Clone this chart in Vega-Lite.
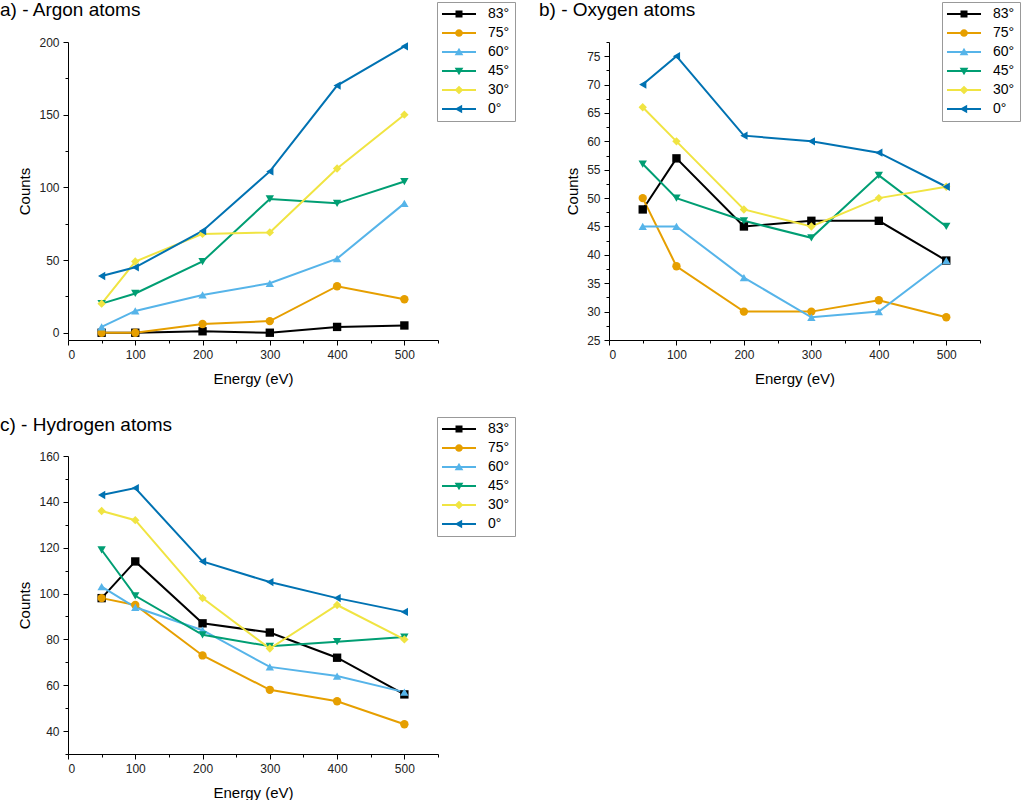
{
  "$schema": "https://vega.github.io/schema/vega-lite/v6.json",
  "padding": 0,
  "background": "white",
  "config": {
    "view": {"stroke": null},
    "font": "Liberation Sans",
    "axis": {
      "grid": false,
      "domainColor": "#000",
      "domainWidth": 1,
      "tickColor": "#000",
      "tickWidth": 1,
      "labelColor": "#222",
      "labelFont": "Liberation Sans",
      "labelFontSize": 12,
      "titleFont": "Liberation Sans",
      "titleFontSize": 15,
      "titleFontWeight": "normal",
      "titleColor": "#000",
      "labelPadding": 4
    },
    "axisX": {"titlePadding": 11},
    "axisY": {"titlePadding": 6},
    "legend": {
      "orient": "none",
      "strokeColor": "#999",
      "fillColor": "white",
      "padding": 5,
      "labelFont": "Liberation Sans",
      "labelFontSize": 14,
      "labelColor": "#000",
      "symbolSize": 196,
      "symbolOffset": 10,
      "labelOffset": 22,
      "rowPadding": 5,
      "symbolStrokeWidth": 0
    },
    "title": {"font": "Liberation Sans", "fontSize": 19, "fontWeight": "normal", "anchor": "start", "frame": "group", "color": "#000"}
  },
  "data": {
    "values": [
      {"panel": "a", "energy": 50, "83°": 0, "75°": 0, "60°": 4, "45°": 20, "30°": 20, "0°": 39},
      {"panel": "a", "energy": 100, "83°": 0, "75°": 0, "60°": 15, "45°": 27, "30°": 49, "0°": 45},
      {"panel": "a", "energy": 200, "83°": 1, "75°": 6, "60°": 26, "45°": 49, "30°": 68, "0°": 70},
      {"panel": "a", "energy": 300, "83°": 0, "75°": 8, "60°": 34, "45°": 92, "30°": 69, "0°": 111},
      {"panel": "a", "energy": 400, "83°": 4, "75°": 32, "60°": 51, "45°": 89, "30°": 113, "0°": 170},
      {"panel": "a", "energy": 500, "83°": 5, "75°": 23, "60°": 89, "45°": 104, "30°": 150, "0°": 197},
      {"panel": "b", "energy": 50, "83°": 48, "75°": 50, "60°": 45, "45°": 56, "30°": 66, "0°": 70},
      {"panel": "b", "energy": 100, "83°": 57, "75°": 38, "60°": 45, "45°": 50, "30°": 60, "0°": 75},
      {"panel": "b", "energy": 200, "83°": 45, "75°": 30, "60°": 36, "45°": 46, "30°": 48, "0°": 61},
      {"panel": "b", "energy": 300, "83°": 46, "75°": 30, "60°": 29, "45°": 43, "30°": 45, "0°": 60},
      {"panel": "b", "energy": 400, "83°": 46, "75°": 32, "60°": 30, "45°": 54, "30°": 50, "0°": 58},
      {"panel": "b", "energy": 500, "83°": 39, "75°": 29, "60°": 39, "45°": 45, "30°": 52, "0°": 52},
      {"panel": "c", "energy": 50, "83°": 98, "75°": 98, "60°": 103, "45°": 119, "30°": 136, "0°": 143},
      {"panel": "c", "energy": 100, "83°": 114, "75°": 95, "60°": 94, "45°": 99, "30°": 132, "0°": 146},
      {"panel": "c", "energy": 200, "83°": 87, "75°": 73, "60°": 84, "45°": 82, "30°": 98, "0°": 114},
      {"panel": "c", "energy": 300, "83°": 83, "75°": 58, "60°": 68, "45°": 77, "30°": 76, "0°": 105},
      {"panel": "c", "energy": 400, "83°": 72, "75°": 53, "60°": 64, "45°": 79, "30°": 95, "0°": 98},
      {"panel": "c", "energy": 500, "83°": 56, "75°": 43, "60°": 57, "45°": 81, "30°": 80, "0°": 92}
    ]
  },
  "columns": 2,
  "spacing": {"column": 23, "row": 29},
  "resolve": {
    "scale": {"x": "independent", "y": "independent", "color": "independent", "shape": "independent"},
    "legend": {"color": "independent", "shape": "independent"}
  },
  "concat": [
    {
      "width": 370, "height": 298,
      "title": {"text": "a) - Argon atoms", "dx": -68, "offset": -18},
      "transform": [{"filter": "datum.panel === 'a'"}, {"fold": ["83°", "75°", "60°", "45°", "30°", "0°"], "as": ["angle", "counts"]}],
      "encoding": {
        "x": {"field": "energy", "type": "quantitative", "title": "Energy (eV)",
          "scale": {"domain": [0, 550], "nice": false},
          "axis": {"values": [0, 50, 100, 150, 200, 250, 300, 350, 400, 450, 500, 550], "labelExpr": "datum.value % 100 === 0 ? datum.label : ''", "tickSize": {"condition": {"test": "datum.value % 100 === 0", "value": 5}, "value": 3}}},
        "y": {"field": "counts", "type": "quantitative", "title": "Counts",
          "scale": {"domain": [-5, 200], "nice": false, "zero": false},
          "axis": {"values": [0, 25, 50, 75, 100, 125, 150, 175, 200], "labelExpr": "datum.value % 50 === 0 ? datum.label : ''", "tickSize": {"condition": {"test": "datum.value % 50 === 0", "value": 5}, "value": 3}}},
        "color": {"field": "angle", "type": "nominal", "title": null,
          "scale": {"domain": ["83°", "75°", "60°", "45°", "30°", "0°"], "range": ["#000000", "#E69F00", "#56B4E9", "#009E73", "#F0E442", "#0072B2"]},
          "legend": {"legendX": 369, "legendY": -40, "encode": {"symbols": {"update": {
            "size": {"value": 196}, "opacity": {"value": 1}, "strokeWidth": {"value": 0}, "stroke": {"value": "transparent"},
            "shape": {"signal": "datum.value === '83°' ? 'M-2.43,-0.14H2.43V0.14H-2.43Z M-0.5,-0.5H0.5V0.5H-0.5Z' : datum.value === '75°' ? 'M-2.43,-0.14H2.43V0.14H-2.43Z M-0.55,0A0.55,0.55 0 1,1 0.55,0A0.55,0.55 0 1,1 -0.55,0Z' : datum.value === '60°' ? 'M-2.43,-0.14H2.43V0.14H-2.43Z M0,-0.62L0.62,0.45L-0.62,0.45Z' : datum.value === '45°' ? 'M-2.43,-0.14H2.43V0.14H-2.43Z M0,0.62L-0.62,-0.45L0.62,-0.45Z' : datum.value === '30°' ? 'M-2.43,-0.14H2.43V0.14H-2.43Z M0,-0.62L0.62,0L0,0.62L-0.62,0Z' : 'M-2.43,-0.14H2.43V0.14H-2.43Z M-0.62,0L0.45,-0.62L0.45,0.62Z'"}}}}}}
      },
      "layer": [
        {"mark": {"type": "line", "strokeWidth": 2}},
        {"mark": {"type": "point", "filled": true, "size": 70, "opacity": 1},
          "encoding": {"shape": {"field": "angle", "type": "nominal", "legend": null,
            "scale": {"range": ["triangle-left", "diamond", "triangle-down", "triangle-up", "circle", "square"]}}}}
      ]
    },
    {
      "width": 371, "height": 298,
      "title": {"text": "b) - Oxygen atoms", "dx": -70, "offset": -18},
      "transform": [{"filter": "datum.panel === 'b'"}, {"fold": ["83°", "75°", "60°", "45°", "30°", "0°"], "as": ["angle", "counts"]}],
      "encoding": {
        "x": {"field": "energy", "type": "quantitative", "title": "Energy (eV)",
          "scale": {"domain": [0, 550], "nice": false},
          "axis": {"values": [0, 50, 100, 150, 200, 250, 300, 350, 400, 450, 500, 550], "labelExpr": "datum.value % 100 === 0 ? datum.label : ''", "tickSize": {"condition": {"test": "datum.value % 100 === 0", "value": 5}, "value": 3}}},
        "y": {"field": "counts", "type": "quantitative", "title": "Counts",
          "scale": {"domain": [25, 77.5], "nice": false, "zero": false},
          "axis": {"values": [25, 27.5, 30, 32.5, 35, 37.5, 40, 42.5, 45, 47.5, 50, 52.5, 55, 57.5, 60, 62.5, 65, 67.5, 70, 72.5, 75, 77.5], "labelExpr": "datum.value % 5 === 0 ? datum.label : ''", "tickSize": {"condition": {"test": "datum.value % 5 === 0", "value": 5}, "value": 3}}},
        "color": {"field": "angle", "type": "nominal", "title": null,
          "scale": {"domain": ["83°", "75°", "60°", "45°", "30°", "0°"], "range": ["#000000", "#E69F00", "#56B4E9", "#009E73", "#F0E442", "#0072B2"]},
          "legend": {"legendX": 333, "legendY": -40, "encode": {"symbols": {"update": {
            "size": {"value": 196}, "opacity": {"value": 1}, "strokeWidth": {"value": 0}, "stroke": {"value": "transparent"},
            "shape": {"signal": "datum.value === '83°' ? 'M-2.43,-0.14H2.43V0.14H-2.43Z M-0.5,-0.5H0.5V0.5H-0.5Z' : datum.value === '75°' ? 'M-2.43,-0.14H2.43V0.14H-2.43Z M-0.55,0A0.55,0.55 0 1,1 0.55,0A0.55,0.55 0 1,1 -0.55,0Z' : datum.value === '60°' ? 'M-2.43,-0.14H2.43V0.14H-2.43Z M0,-0.62L0.62,0.45L-0.62,0.45Z' : datum.value === '45°' ? 'M-2.43,-0.14H2.43V0.14H-2.43Z M0,0.62L-0.62,-0.45L0.62,-0.45Z' : datum.value === '30°' ? 'M-2.43,-0.14H2.43V0.14H-2.43Z M0,-0.62L0.62,0L0,0.62L-0.62,0Z' : 'M-2.43,-0.14H2.43V0.14H-2.43Z M-0.62,0L0.45,-0.62L0.45,0.62Z'"}}}}}}
      },
      "layer": [
        {"mark": {"type": "line", "strokeWidth": 2}},
        {"mark": {"type": "point", "filled": true, "size": 70, "opacity": 1},
          "encoding": {"shape": {"field": "angle", "type": "nominal", "legend": null,
            "scale": {"range": ["triangle-left", "diamond", "triangle-down", "triangle-up", "circle", "square"]}}}}
      ]
    },
    {
      "width": 370, "height": 298,
      "title": {"text": "c) - Hydrogen atoms", "dx": -68, "offset": -18},
      "transform": [{"filter": "datum.panel === 'c'"}, {"fold": ["83°", "75°", "60°", "45°", "30°", "0°"], "as": ["angle", "counts"]}],
      "encoding": {
        "x": {"field": "energy", "type": "quantitative", "title": "Energy (eV)",
          "scale": {"domain": [0, 550], "nice": false},
          "axis": {"values": [0, 50, 100, 150, 200, 250, 300, 350, 400, 450, 500, 550], "labelExpr": "datum.value % 100 === 0 ? datum.label : ''", "tickSize": {"condition": {"test": "datum.value % 100 === 0", "value": 5}, "value": 3}}},
        "y": {"field": "counts", "type": "quantitative", "title": "Counts",
          "scale": {"domain": [30, 160], "nice": false, "zero": false},
          "axis": {"values": [30, 40, 50, 60, 70, 80, 90, 100, 110, 120, 130, 140, 150, 160], "labelExpr": "datum.value % 20 === 0 ? datum.label : ''", "tickSize": {"condition": {"test": "datum.value % 20 === 0", "value": 5}, "value": 3}}},
        "color": {"field": "angle", "type": "nominal", "title": null,
          "scale": {"domain": ["83°", "75°", "60°", "45°", "30°", "0°"], "range": ["#000000", "#E69F00", "#56B4E9", "#009E73", "#F0E442", "#0072B2"]},
          "legend": {"legendX": 369, "legendY": -39, "encode": {"symbols": {"update": {
            "size": {"value": 196}, "opacity": {"value": 1}, "strokeWidth": {"value": 0}, "stroke": {"value": "transparent"},
            "shape": {"signal": "datum.value === '83°' ? 'M-2.43,-0.14H2.43V0.14H-2.43Z M-0.5,-0.5H0.5V0.5H-0.5Z' : datum.value === '75°' ? 'M-2.43,-0.14H2.43V0.14H-2.43Z M-0.55,0A0.55,0.55 0 1,1 0.55,0A0.55,0.55 0 1,1 -0.55,0Z' : datum.value === '60°' ? 'M-2.43,-0.14H2.43V0.14H-2.43Z M0,-0.62L0.62,0.45L-0.62,0.45Z' : datum.value === '45°' ? 'M-2.43,-0.14H2.43V0.14H-2.43Z M0,0.62L-0.62,-0.45L0.62,-0.45Z' : datum.value === '30°' ? 'M-2.43,-0.14H2.43V0.14H-2.43Z M0,-0.62L0.62,0L0,0.62L-0.62,0Z' : 'M-2.43,-0.14H2.43V0.14H-2.43Z M-0.62,0L0.45,-0.62L0.45,0.62Z'"}}}}}}
      },
      "layer": [
        {"mark": {"type": "line", "strokeWidth": 2}},
        {"mark": {"type": "point", "filled": true, "size": 70, "opacity": 1},
          "encoding": {"shape": {"field": "angle", "type": "nominal", "legend": null,
            "scale": {"range": ["triangle-left", "diamond", "triangle-down", "triangle-up", "circle", "square"]}}}}
      ]
    }
  ]
}
